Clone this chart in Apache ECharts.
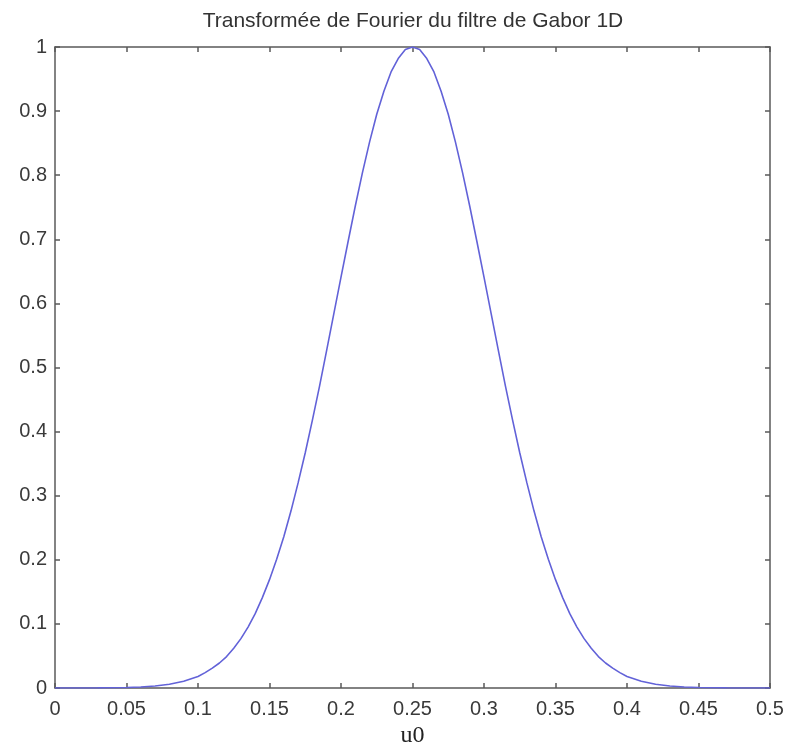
<!DOCTYPE html>
<html>
<head>
<meta charset="utf-8">
<script src="https://cdn.jsdelivr.net/npm/echarts@6/dist/echarts.min.js"></script>
<style>html,body{margin:0;padding:0;background:#fff}#c{width:785px;height:752px}</style>
</head>
<body>
<div id="c"></div>
<script>
const titleText = 'Transformée de Fourier du filtre de Gabor 1D';
const xLabel = 'u0';
const uValues = [0,0.01,0.02,0.03,0.04,0.05,0.06,0.07,0.08,0.09,
  0.100,0.105,0.110,0.115,0.120,0.125,0.130,0.135,0.140,0.145,0.150,0.155,0.160,0.165,0.170,0.175,0.180,0.185,0.190,0.195,
  0.200,0.205,0.210,0.215,0.220,0.225,0.230,0.235,0.240,0.245,0.250,0.255,0.260,0.265,0.270,0.275,0.280,0.285,0.290,0.295,
  0.300,0.305,0.310,0.315,0.320,0.325,0.330,0.335,0.340,0.345,0.350,0.355,0.360,0.365,0.370,0.375,0.380,0.385,0.390,0.395,
  0.400,0.41,0.42,0.43,0.44,0.45,0.46,0.47,0.48,0.49,0.50];
const amplitude = [0,0.0001,0.0001,0.0002,0.0004,0.0008,0.0016,0.0031,0.0058,0.0105,
  0.018,0.024,0.031,0.039,0.049,0.062,0.077,0.095,0.116,0.141,0.169,0.201,0.236,0.276,0.32,0.367,0.418,0.471,0.527,0.584,
  0.641,0.697,0.752,0.804,0.852,0.895,0.931,0.961,0.982,0.996,1.0,0.996,0.982,0.961,0.931,0.895,0.852,0.804,0.752,0.697,
  0.641,0.584,0.527,0.471,0.418,0.367,0.32,0.276,0.236,0.201,0.169,0.141,0.116,0.095,0.077,0.062,0.049,0.039,0.031,0.024,
  0.018,0.0105,0.0058,0.0031,0.0016,0.0008,0.0004,0.0002,0.0001,0.0001,0];
const xTicks = [0,0.05,0.1,0.15,0.2,0.25,0.3,0.35,0.4,0.45,0.5];
const yTicks = [0,0.1,0.2,0.3,0.4,0.5,0.6,0.7,0.8,0.9,1];

const axisColor = '#5a5a5a';
const labelFont = 'Liberation Sans, Arial, sans-serif';
const pts = uValues.map((u, i) => [u, amplitude[i]]);

const baseX = {
  type: 'value', min: 0, max: 0.5, interval: 0.05,
  axisLine: {show: true, onZero: false, lineStyle: {color: axisColor, width: 1.5}},
  axisTick: {show: true, inside: true, length: 5, lineStyle: {color: axisColor, width: 1.5}},
  splitLine: {show: false}
};
const baseY = {
  type: 'value', min: 0, max: 1, interval: 0.1,
  axisLine: {show: true, onZero: false, lineStyle: {color: axisColor, width: 1.5}},
  axisTick: {show: true, inside: true, length: 5, lineStyle: {color: axisColor, width: 1.5}},
  splitLine: {show: false}
};
const fmt = v => String(Math.round(v * 100) / 100);

const chart = echarts.init(document.getElementById('c'), null, {renderer: 'canvas'});
chart.setOption({
  backgroundColor: '#ffffff',
  animation: false,
  title: {
    text: titleText, left: 408, top: 6, textAlign: 'center',
    textStyle: {fontFamily: labelFont, fontSize: 21, fontWeight: 'normal', color: '#333'}
  },
  grid: {left: 55, right: 15, top: 47, bottom: 64, containLabel: false, outerBoundsMode: 'none'},
  xAxis: [
    Object.assign({}, baseX, {
      position: 'bottom',
      name: xLabel, nameLocation: 'middle', nameGap: 24,
      nameTextStyle: {fontFamily: 'Liberation Serif, Times New Roman, serif', fontSize: 24, color: '#222', padding: [9, 0, 0, 0]},
      axisLabel: {show: true, margin: 11, fontFamily: labelFont, fontSize: 20, color: '#3a3a3a', formatter: fmt}
    }),
    Object.assign({}, baseX, {position: 'top', axisLabel: {show: false}})
  ],
  yAxis: [
    Object.assign({}, baseY, {
      position: 'left',
      axisLabel: {show: true, margin: 8, fontFamily: labelFont, fontSize: 20, color: '#3a3a3a', formatter: fmt}
    }),
    Object.assign({}, baseY, {position: 'right', axisLabel: {show: false}})
  ],
  series: [{
    type: 'line', xAxisIndex: 0, yAxisIndex: 0,
    data: pts, showSymbol: false, smooth: false,
    lineStyle: {color: '#6262d8', width: 1.6},
    itemStyle: {color: '#6262d8'}
  }]
});
</script>
</body>
</html>
